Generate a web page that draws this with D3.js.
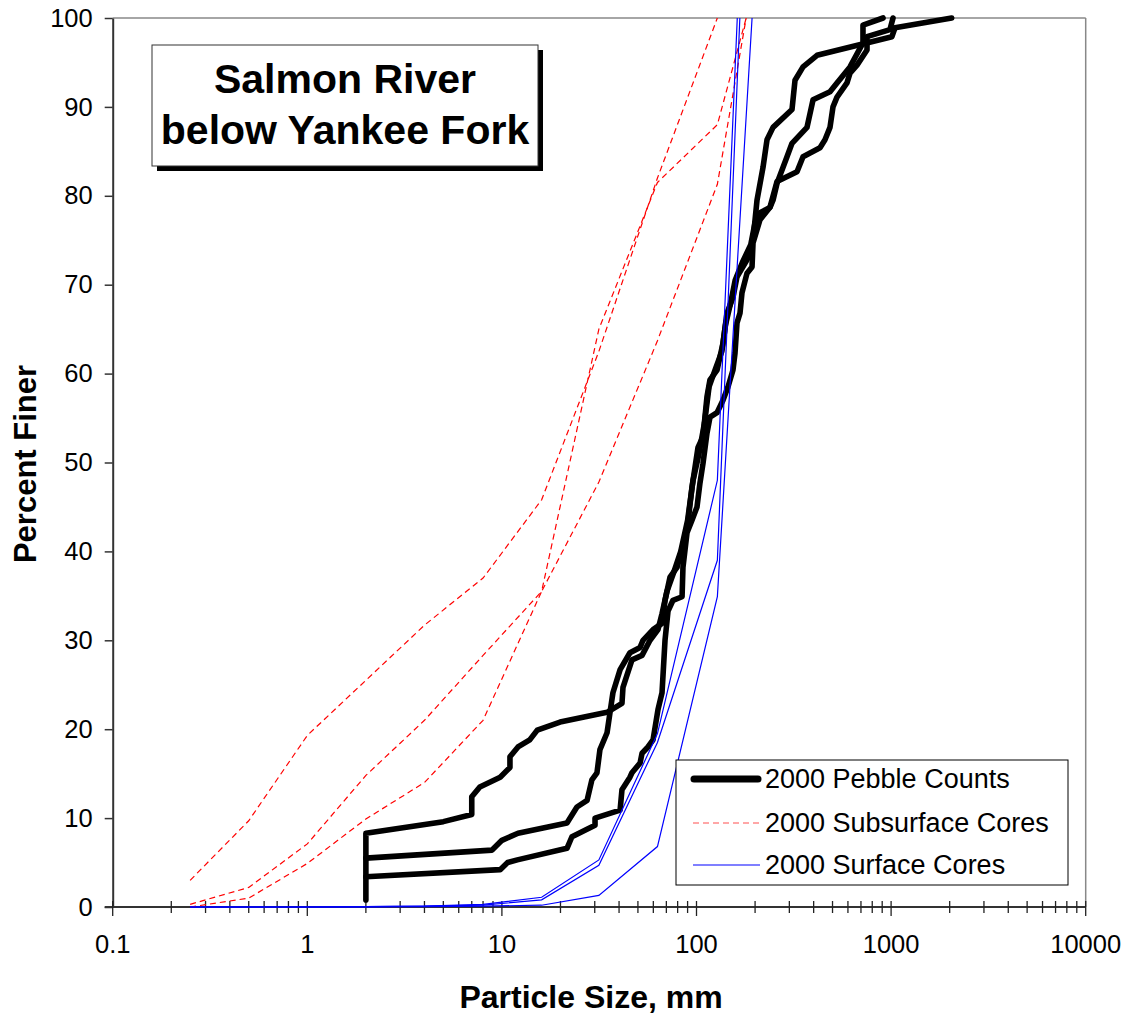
<!DOCTYPE html>
<html>
<head>
<meta charset="utf-8">
<script src="https://cdn.jsdelivr.net/npm/d3@7"></script>
<style>
  body { margin: 0; background: #fff; }
  svg { font-family: "Liberation Sans", Arial, sans-serif; }
</style>
</head>
<body>
<svg id="chart" width="1130" height="1015"></svg>
<script>
// pebble counts, [size mm, percent finer]
var pebbleA = [[2,0.8],[2,8.3],[5.0,9.6],[7.0,10.4],[7.0,12.4],[7.7,13.5],[9.8,14.6],[11.0,15.7],[11.0,16.9],[12.1,18.0],[13.9,18.8],[15.2,19.9],[19.9,20.8],[34.7,21.9],[41.4,22.9],[41.9,24.7],[46.6,27.8],[52.5,28.3],[57.7,30.0],[63.4,31.2],[66.5,33.0],[70.5,35.5],[76,37.5],[83,40],[90,43.5],[96,48],[103,51],[110,54.5],[116,58.5],[125,60.5],[135,62.5],[141,65.5],[150,68],[158,70.5],[172,72.5],[190,74.5],[200,77],[212,78.1],[238.6,78.7],[259.3,81.6],[328.5,82.7],[352.7,84.4],[431.2,85.4],[457.4,86.3],[485.3,87.7],[502.8,90.0],[527.2,91.1],[593.4,92.7],[614.9,93.8],[668,94.7],[752,96.4],[752,97.9],[987,98.7],[1023,100]];
var pebbleB = [[2,5.5],[8.9,6.4],[10.0,7.5],[12.1,8.3],[21.6,9.45],[24.3,11.25],[27.4,12.0],[29.0,14.3],[30.8,15.1],[31.9,17.7],[34.7,19.6],[35.9,21.8],[37.2,24.1],[40.5,26.7],[45.5,28.6],[51.3,29.2],[53.1,30.0],[59.8,31.2],[66.5,31.9],[68.9,34.5],[73.1,37.1],[79.4,38.2],[89.4,42.4],[94.8,47.2],[101.8,51.7],[108,52.9],[113.2,57.4],[117.3,59.3],[127.5,60.4],[136.8,63.4],[143.4,66.8],[154,68.6],[161.5,70.9],[181.8,72.8],[195.2,75.0],[204.6,79.5],[219.7,83.2],[230.3,86.3],[247.3,87.7],[309.6,89.7],[320.8,93.0],[352.7,94.5],[416.2,95.8],[1010,97.9],[1047,98.9],[2048,100]];
var pebbleC = [[2,3.4],[9.8,4.2],[10.7,5.0],[12.0,5.3],[21.6,6.6],[22.9,7.9],[30.1,9.2],[30.1,10.0],[40.5,10.9],[41.4,13.2],[45.5,14.6],[46.6,15.1],[51.3,16.2],[52.5,17.3],[56.3,18.0],[59.8,18.8],[63.4,22.2],[66.5,24.1],[68.9,30.0],[71.4,33.3],[75.7,34.5],[84.3,34.9],[85.2,38.2],[89.4,42.1],[94.8,43.5],[100.6,45.0],[104.2,47.7],[108,49.9],[113.2,53.3],[117.3,55.1],[127.5,55.6],[136.8,57.0],[145.1,58.5],[154,60.4],[157.7,62.3],[161.5,65.7],[167.3,66.8],[171.3,69.1],[181.8,71.3],[192.9,72.0],[195.2,74.7],[212,77.3],[238.6,78.7],[247.3,79.5],[259.3,81.4],[291.8,84.4],[309.6,85.9],[369.7,87.7],[397,90.8],[485.3,91.7],[527.2,92.7],[614.9,94.5],[717,97.2],[717,99.2],[909,100]];

// subsurface cores (sieve sizes)
var subSizes = [0.25,0.5,1,2,4,8,16,31.5,63,128,180];
var subA = [3.0,9.7,19.3,25.5,31.7,37.0,45.8,62.5,82.0,100,null];
var subB = [0.3,2.2,7.1,14.8,21.0,28.3,35.5,47.8,63.7,81.3,100];
var subC = [0,1.0,4.9,9.9,14.0,21.0,35.5,65.0,81.5,88.0,100];

// surface cores
var surfSizes = [0.25,0.5,1,2,4,8,16,31.5,63,128];
var surfA = [0,0,0,0.05,0.1,0.3,1.1,5.3,19.5,48.0];
var surfB = [0,0,0,0.05,0.1,0.2,0.8,4.7,18.5,39.0];
var surfC = [0,0,0,0,0.05,0.1,0.2,1.3,6.8,34.9];
var surfMax = [162,167,193];

var yTicks = [0,10,20,30,40,50,60,70,80,90,100];
var xLabels = [0.1,1,10,100,1000,10000];
var legendNames = ["2000 Pebble Counts","2000 Subsurface Cores","2000 Surface Cores"];

var svg = d3.select("#chart");
var x = d3.scaleLog().domain([0.1,10000]).range([112.7,1085.7]);
var y = d3.scaleLinear().domain([0,100]).range([907,18]);

var line = d3.line()
  .defined(function(d){ return d[1] != null; })
  .x(function(d){ return x(d[0]); })
  .y(function(d){ return y(d[1]); });

function zipSeries(sizes, vals){
  return sizes.map(function(s,i){ return [s, vals[i]]; });
}

// frame top / right
svg.append("line").attr("x1",x(0.1)).attr("x2",x(10000)).attr("y1",y(100)).attr("y2",y(100))
  .attr("stroke","#888").attr("stroke-width",1.5);
svg.append("line").attr("x1",x(10000)).attr("x2",x(10000)).attr("y1",y(100)).attr("y2",y(0))
  .attr("stroke","#888").attr("stroke-width",1.5);

// y axis
var yAxis = svg.append("g").attr("transform","translate(" + x(0.1) + ",0)")
  .call(d3.axisLeft(y).tickValues(yTicks).tickSize(8).tickSizeOuter(0).tickPadding(12));
yAxis.select(".domain").attr("stroke","#333").attr("stroke-width",2);
yAxis.selectAll(".tick line").attr("stroke","#333").attr("stroke-width",1.5);
yAxis.selectAll(".tick text").attr("font-size",25.5).attr("fill","#000").attr("font-family","Liberation Sans, Arial, sans-serif");

// x axis
var xg = svg.append("g");
xg.append("line").attr("x1",x(0.1)-8).attr("x2",x(10000)).attr("y1",y(0)).attr("y2",y(0))
  .attr("stroke","#333").attr("stroke-width",2);
var allTicks = x.ticks();
xg.selectAll("line.tk").data(allTicks).enter().append("line")
  .attr("class","tk")
  .attr("x1",function(d){ return x(d); }).attr("x2",function(d){ return x(d); })
  .attr("y1",y(0)-6)
  .attr("y2",function(d){ return xLabels.indexOf(d) >= 0 ? y(0)+9 : y(0)+6; })
  .attr("stroke","#222").attr("stroke-width",1.3);
xg.selectAll("text").data(xLabels).enter().append("text")
  .attr("x",function(d){ return x(d); }).attr("y",953)
  .attr("text-anchor","middle").attr("font-size",25.5)
  .text(function(d){ return String(d); });

// axis titles
svg.append("text").attr("x",591).attr("y",1008).attr("text-anchor","middle")
  .attr("font-size",32).attr("font-weight","bold").text("Particle Size, mm");
svg.append("text").attr("transform","translate(36,464)rotate(-90)").attr("text-anchor","middle")
  .attr("font-size",31).attr("font-weight","bold").text("Percent Finer");

// series
var lines = svg.append("g").attr("fill","none");
[pebbleA,pebbleB,pebbleC].forEach(function(s){
  lines.append("path").attr("d",line(s)).attr("stroke","#000").attr("stroke-width",5.6)
    .attr("stroke-linejoin","round").attr("stroke-linecap","round");
});
[subA,subB,subC].forEach(function(v){
  lines.append("path").attr("d",line(zipSeries(subSizes,v))).attr("stroke","#ff0000")
    .attr("stroke-width",1.2).attr("stroke-dasharray","6,4");
});
[surfA,surfB,surfC].forEach(function(v,i){
  var pts = zipSeries(surfSizes,v).concat([[surfMax[i],100]]);
  lines.append("path").attr("d",line(pts)).attr("stroke","#0000ff").attr("stroke-width",1.2);
});

// title box with shadow
svg.append("rect").attr("x",157).attr("y",50).attr("width",386).attr("height",121).attr("fill","#000");
svg.append("rect").attr("x",152).attr("y",45).attr("width",386).attr("height",121)
  .attr("fill","#fff").attr("stroke","#333").attr("stroke-width",1);
svg.append("text").attr("x",345).attr("y",93).attr("text-anchor","middle")
  .attr("font-size",41).attr("font-weight","bold").text("Salmon River");
svg.append("text").attr("x",345).attr("y",144).attr("text-anchor","middle")
  .attr("font-size",41).attr("font-weight","bold").text("below Yankee Fork");

// legend
var lg = svg.append("g");
lg.append("rect").attr("x",676).attr("y",760).attr("width",392).attr("height",125)
  .attr("fill","#fff").attr("stroke","#000").attr("stroke-width",1);
var lgY = [779,823,865];
lg.append("line").attr("x1",694).attr("x2",758).attr("y1",lgY[0]).attr("y2",lgY[0])
  .attr("stroke","#000").attr("stroke-width",7).attr("stroke-linecap","round");
lg.append("line").attr("x1",693).attr("x2",760).attr("y1",lgY[1]).attr("y2",lgY[1])
  .attr("stroke","#ff5050").attr("stroke-width",1.2).attr("stroke-dasharray","6,4");
lg.append("line").attr("x1",693).attr("x2",760).attr("y1",lgY[2]).attr("y2",lgY[2])
  .attr("stroke","#0000ff").attr("stroke-width",1.2);
lg.selectAll("text").data(legendNames).enter().append("text")
  .attr("x",765).attr("y",function(d,i){ return lgY[i]; }).attr("dy","0.35em")
  .attr("font-size",27).text(function(d){ return d; });
</script>
</body>
</html>
